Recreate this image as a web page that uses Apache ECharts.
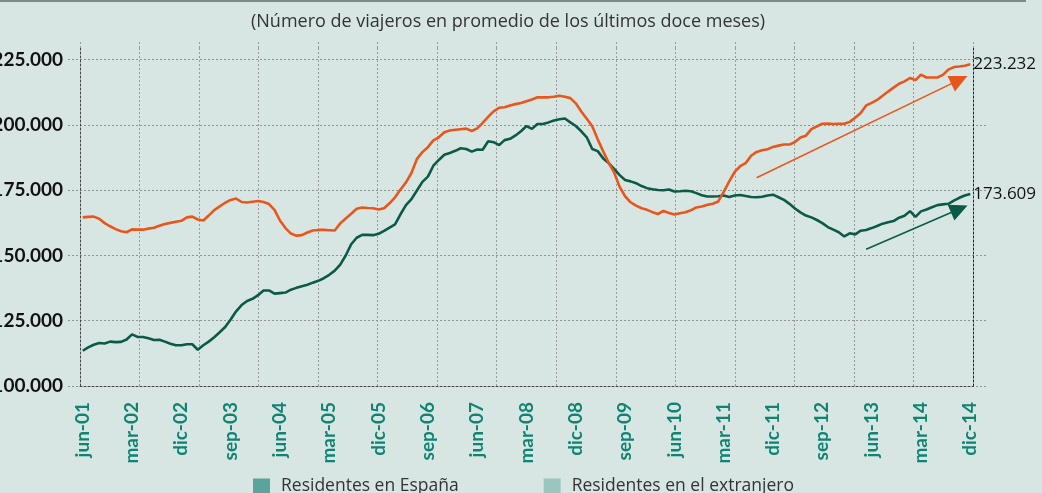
<!DOCTYPE html>
<html>
<head>
<meta charset="utf-8">
<script src="https://cdn.jsdelivr.net/npm/echarts@6/dist/echarts.min.js"></script>
<style>
    html, body {
        margin: 0;
        padding: 0;
        background: #d8e6e3;
    }

    #chart {
        width: 1042px;
        height: 493px;
    }
</style>
</head>
<body>
<div id="chart"></div>
<script>
// Months covered: jun-01 .. dic-14 (one point per month)
const monthNames = ['ene', 'feb', 'mar', 'abr', 'may', 'jun', 'jul', 'ago', 'sep', 'oct', 'nov', 'dic'];
const firstMonth = 5;   // jun
const firstYear = 1;    // 2001
const monthCount = 163;

const categories = [];
for (let i = 0; i < monthCount; i++) {
    const m = (firstMonth + i) % 12;
    const y = firstYear + Math.floor((firstMonth + i) / 12);
    categories.push(monthNames[m] + '-' + String(y).padStart(2, '0'));
}

// Residentes en España (miles de viajeros, media 12 meses)
const spainValues = [
    113.5, 114.8, 115.8, 116.5, 116.3, 117.0, 116.8, 116.9, 117.8, 119.8,
    118.8, 118.8, 118.3, 117.6, 117.7, 117.0, 116.2, 115.6, 115.6, 116.0,
    116.0, 113.9, 115.6, 117.0, 118.7, 120.6, 122.6, 125.5, 128.6, 131.0,
    132.6, 133.4, 134.8, 136.6, 136.6, 135.4, 135.6, 135.8, 136.9, 137.6,
    138.2, 138.8, 139.6, 140.3, 141.3, 142.6, 144.2, 146.5, 150.0, 154.3,
    156.8, 157.9, 157.9, 157.8, 158.3, 159.4, 160.7, 161.9, 165.8, 169.3,
    171.6, 174.9, 178.2, 180.2, 184.4, 186.6, 188.6, 189.3, 190.1, 191.1,
    190.8, 189.8, 190.6, 190.5, 193.8, 193.4, 192.3, 194.2, 194.7, 196.0,
    197.6, 199.6, 198.5, 200.4, 200.4, 201.0, 201.7, 202.2, 202.5, 201.0,
    199.6, 197.6, 195.3, 190.8, 190.0, 187.2, 185.4, 183.2, 180.8, 178.9,
    178.4, 177.7, 176.6, 175.8, 175.4, 175.1, 175.0, 175.3, 174.5, 174.6,
    174.8, 174.6, 173.9, 173.1, 172.6, 172.6, 172.7, 173.0, 172.4, 173.0,
    173.2, 172.8, 172.4, 172.3, 172.5, 173.0, 173.3, 172.3, 171.3, 169.8,
    168.0, 166.5, 165.3, 164.6, 163.6, 162.4, 160.9, 159.9, 158.9, 157.3,
    158.5, 158.1, 159.5, 159.8, 160.5, 161.3, 162.2, 162.7, 163.2, 164.5,
    165.2, 167.0, 164.8, 166.9, 167.6, 168.5, 169.3, 169.6, 169.8, 171.0,
    172.1, 173.0, 173.609
];

// Residentes en el extranjero (miles de viajeros, media 12 meses)
const abroadValues = [
    164.6, 164.8, 164.9, 164.1, 162.4, 161.2, 160.1, 159.3, 158.9, 160.0,
    159.9, 159.9, 160.3, 160.6, 161.4, 162.1, 162.5, 162.9, 163.3, 164.6,
    164.9, 163.8, 163.4, 165.3, 167.4, 168.8, 170.2, 171.3, 171.8, 170.5,
    170.3, 170.6, 170.9, 170.5, 169.7, 167.5, 163.4, 160.5, 158.4, 157.6,
    157.8, 158.8, 159.6, 159.8, 159.8, 159.7, 159.6, 162.3, 164.2, 166.0,
    167.9, 168.4, 168.2, 168.1, 167.6, 168.1, 170.0, 172.3, 175.3, 178.0,
    181.6, 187.0, 189.6, 191.5, 194.1, 195.3, 197.2, 197.9, 198.2, 198.4,
    198.6, 197.7, 198.7, 200.8, 203.1, 205.2, 206.6, 206.8, 207.5, 208.0,
    208.4, 209.1, 209.8, 210.6, 210.6, 210.6, 210.8, 211.2, 210.8, 210.3,
    208.3, 205.2, 202.4, 199.5, 194.5, 189.9, 185.5, 181.8, 176.3, 172.7,
    170.4, 169.1, 168.1, 167.5, 166.6, 165.9, 167.1, 166.3, 165.7, 166.2,
    166.6, 167.3, 168.4, 168.8, 169.4, 169.8, 170.7, 174.4, 178.4, 182.0,
    184.2, 185.4, 188.2, 189.7, 190.3, 190.7, 191.6, 192.1, 192.5, 192.5,
    193.5, 195.2, 195.9, 198.4, 199.5, 200.5, 200.6, 200.4, 200.5, 200.5,
    201.2, 202.8, 204.6, 207.5, 208.5, 209.6, 211.2, 212.8, 214.3, 215.8,
    216.7, 218.0, 217.2, 219.3, 218.2, 218.2, 218.2, 219.2, 221.2, 222.2,
    222.4, 222.7, 223.232
];

// Trend arrows: [month index, viajeros] for start and end
const abroadArrow = [[123, 179800], [160, 217300]];
const spainArrow = [[143, 152400], [160, 167800]];

const seriesNames = ['Residentes en España', 'Residentes en el extranjero'];
const legendColors = ['#5aa49a', '#99c6bf'];
const lineColors = ['#0b5a48', '#e9561b'];

const yMin = 100000;
const yMax = 229500;
const yStep = 25000;

function formatThousands(v) {
    return String(Math.round(v)).replace(/\B(?=(\d{3})+(?!\d))/g, '.');
}

const FONT = 'Lato, "Open Sans", sans-serif';
const WIDE_FONT = '"Open Sans", Lato, sans-serif';
const DOTTED = [2, 2];

const chart = echarts.init(document.getElementById('chart'), null, {renderer: 'canvas'});

function arrowLine(points, color) {
    return {
        silent: true,
        animation: false,
        label: {show: false},
        lineStyle: {color: color, width: 1.5, type: 'solid'},
        data: [[
            {coord: points[0], symbol: 'none'},
            {coord: points[1], symbol: 'path://M6,0 L12,16 L0,16 Z', symbolSize: [17, 18]}
        ]]
    };
}

function lineSeries(idx, values, arrow) {
    return {
        name: seriesNames[idx],
        type: 'line',
        xAxisIndex: 0,
        yAxisIndex: 0,
        data: values.map(v => v * 1000),
        showSymbol: false,
        smooth: false,
        color: legendColors[idx],
        lineStyle: {color: lineColors[idx], width: 2.6},
        endLabel: {
            show: true,
            formatter: p => formatThousands(p.value),
            color: '#111',
            fontFamily: WIDE_FONT,
            fontSize: 17,
            distance: 3
        },
        markLine: arrowLine(arrow, lineColors[idx])
    };
}

const option = {
    backgroundColor: '#d8e6e3',
    animation: false,
    textStyle: {fontFamily: FONT},
    graphic: [{
        type: 'rect',
        shape: {x: 0, y: 0, width: 1026, height: 2},
        style: {fill: '#7f8a88'},
        silent: true
    }],
    title: {
        text: '(Número de viajeros en promedio de los últimos doce meses)',
        left: 246,
        top: 8,
        textStyle: {
            fontFamily: WIDE_FONT,
            fontSize: 18,
            fontWeight: 'normal',
            color: '#333'
        }
    },
    legend: {
        data: seriesNames.map((n, i) => ({name: n, itemStyle: {color: legendColors[i]}})),
        left: 253,
        top: 477,
        padding: 0,
        icon: 'rect',
        itemWidth: 17,
        itemHeight: 15,
        itemGap: 85,
        textStyle: {fontFamily: WIDE_FONT, fontSize: 17.5, color: '#333', padding: [0, 0, 0, 6]}
    },
    grid: [
        {left: 80, right: 69, top: 48, bottom: 107, outerBoundsMode: 'none'},
        {left: 68, right: 55, top: 48, bottom: 107, outerBoundsMode: 'none'}
    ],
    xAxis: [
        {
            type: 'category',
            gridIndex: 0,
            data: categories,
            boundaryGap: true,
            axisLine: {show: true, lineStyle: {color: '#444', type: DOTTED, width: 1}},
            axisTick: {show: false},
            splitLine: {show: false},
            axisLabel: {
                interval: 8,
                rotate: 90,
                margin: 16,
                color: '#0f8473',
                fontWeight: 'bold',
                fontSize: 19,
                fontFamily: FONT
            }
        },
        {
            // vertical gridlines
            type: 'value',
            gridIndex: 0,
            min: 0,
            max: 15,
            interval: 1,
            axisLine: {show: false},
            axisLabel: {show: false},
            axisTick: {show: true, length: 6, lineStyle: {color: '#999', type: DOTTED}},
            splitLine: {show: true, lineStyle: {color: '#999', type: DOTTED, width: 1}}
        },
        {
            type: 'value',
            gridIndex: 1,
            show: false
        }
    ],
    yAxis: [
        {
            type: 'value',
            gridIndex: 0,
            min: yMin,
            max: yMax,
            interval: yStep,
            axisLine: {show: true, lineStyle: {color: '#444', type: DOTTED, width: 1}},
            axisTick: {show: false},
            splitLine: {show: false},
            axisLabel: {
                showMaxLabel: false,
                margin: 17,
                color: '#111',
                fontWeight: 'bold',
                fontSize: 19,
                fontFamily: FONT,
                formatter: v => formatThousands(v)
            }
        },
        {
            // right frame line
            type: 'value',
            gridIndex: 0,
            position: 'right',
            min: yMin,
            max: yMax,
            interval: yStep,
            axisLine: {show: true, lineStyle: {color: '#222', type: DOTTED, width: 1}},
            axisTick: {show: false},
            axisLabel: {show: false},
            splitLine: {show: false}
        },
        {
            // horizontal gridlines, a little wider than the plot
            type: 'value',
            gridIndex: 1,
            min: yMin,
            max: yMax,
            interval: yStep,
            axisLine: {show: false},
            axisTick: {show: false},
            axisLabel: {show: false},
            splitLine: {show: true, showMaxLine: false, lineStyle: {color: '#8d9391', type: DOTTED, width: 1}}
        }
    ],
    series: [
        lineSeries(0, spainValues, spainArrow),
        lineSeries(1, abroadValues, abroadArrow)
    ]
};

chart.setOption(option);
</script>
</body>
</html>
